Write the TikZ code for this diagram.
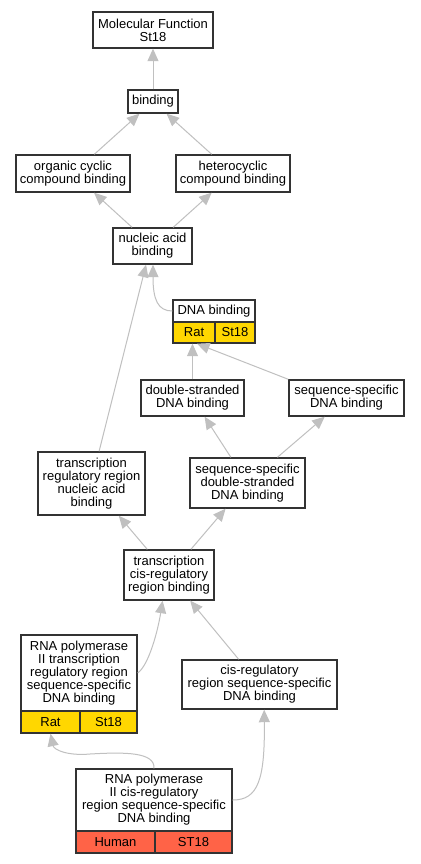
\documentclass[tikz,border=0pt]{standalone}
\usepackage{fontspec}
\setmainfont{Liberation Sans}
\usetikzlibrary{arrows.meta,calc}
\definecolor{edgegray}{HTML}{C0C0C0}
\definecolor{goldcell}{HTML}{FFD700}
\definecolor{tomatocell}{HTML}{FF6347}
\begin{document}
\begin{tikzpicture}[x=1pt,y=-1pt,
  box/.style={draw=black!80, line width=1.4pt, fill=white, inner sep=0pt, align=center,
              font=\fontsize{13}{13}\selectfont},
  goldbox/.style={box, fill=goldcell},
  redbox/.style={box, fill=tomatocell},
  edge/.style={draw=edgegray, line width=1pt, -{Triangle[length=12.5pt,width=11pt,fill=edgegray]}}]
\fill[white] (0,0) rectangle (420,864);
\useasboundingbox (0,0) rectangle (420,864);

% nodes
\node[box, minimum width=120, minimum height=36] (mf) at (153,30) {Molecular Function\\St18};
\node[box, minimum width=50, minimum height=23] (bind) at (153,101.5) {binding};
\node[box, minimum width=114, minimum height=37] (org) at (73,173.5) {organic cyclic\\compound binding};
\node[box, minimum width=114, minimum height=37] (het) at (233,173.5) {heterocyclic\\compound binding};
\node[box, minimum width=79, minimum height=36] (nuc) at (152.5,246) {nucleic acid\\binding};

\node[box, minimum width=82, minimum height=22] (dnah) at (214,311) {DNA binding};
\node[goldbox, minimum width=42, minimum height=21] (dnar) at (194,332.5) {Rat};
\node[goldbox, minimum width=40, minimum height=21] (dnas) at (235,332.5) {St18};

\node[box, minimum width=103, minimum height=36] (ds) at (192.5,398) {double-stranded\\DNA binding};
\node[box, minimum width=115, minimum height=36] (ss) at (346.5,398) {sequence-specific\\DNA binding};
\node[box, minimum width=107, minimum height=63] (trr) at (91.5,483.5) {transcription\\regulatory region\\nucleic acid\\binding};
\node[box, minimum width=115, minimum height=50] (ssds) at (247.5,483) {sequence-specific\\double-stranded\\DNA binding};
\node[box, minimum width=90, minimum height=50] (tcis) at (169,575) {transcription\\cis-regulatory\\region binding};

\node[box, minimum width=116, minimum height=76] (rpt) at (79,673) {RNA polymerase\\II transcription\\regulatory region\\sequence-specific\\DNA binding};
\node[goldbox, minimum width=59, minimum height=22] (rptr) at (50.5,722) {Rat};
\node[goldbox, minimum width=57, minimum height=22] (rpts) at (108.5,722) {St18};

\node[box, minimum width=155, minimum height=49] (cisr) at (259.5,684.5) {cis-regulatory\\region sequence-specific\\DNA binding};

\node[box, minimum width=156, minimum height=62] (rpc) at (154,800) {RNA polymerase\\II cis-regulatory\\region sequence-specific\\DNA binding};
\node[redbox, minimum width=79, minimum height=22] (rpch) at (115.5,842) {Human};
\node[redbox, minimum width=77, minimum height=22] (rpcs) at (193.5,842) {ST18};

% edges
\draw[edge] (bind) -- (mf);
\draw[edge] (org) -- (bind);
\draw[edge] (het) -- (bind);
\draw[edge] (nuc) -- (org);
\draw[edge] (nuc) -- (het);
\draw[edge] (dnah.west) .. controls (158,311) and (153,300) .. ($(nuc.south)+(0.5,0)$);
\draw[edge] ($(trr.north west)!0.57!(trr.north east)$) -- ($(nuc.south west)!0.42!(nuc.south east)$);
\draw[edge] (ds.north) -- (ds.north |- dnar.south);
\draw[edge] (ss.north west) -- ($(dnar.south)+(3,0)$);
\draw[edge] (ssds) -- (ds);
\draw[edge] (ssds) -- (ss);
\draw[edge] (tcis) -- (trr);
\draw[edge] (tcis) -- (ssds);
\draw[edge] (rpt.east) .. controls (149,665) and (158,630) .. ($(tcis.south west)!0.43!(tcis.south east)$);
\draw[edge] (cisr) -- (tcis);
\draw[edge] (rpc.north) .. controls (155,752) and (125,752) .. (90,754) .. controls (68,756) and (54,750) .. (rptr.south);
\draw[edge] (rpc.east) .. controls (258,800) and (265,780) .. ($(cisr.south west)!0.53!(cisr.south east)$);
\end{tikzpicture}
\end{document}
